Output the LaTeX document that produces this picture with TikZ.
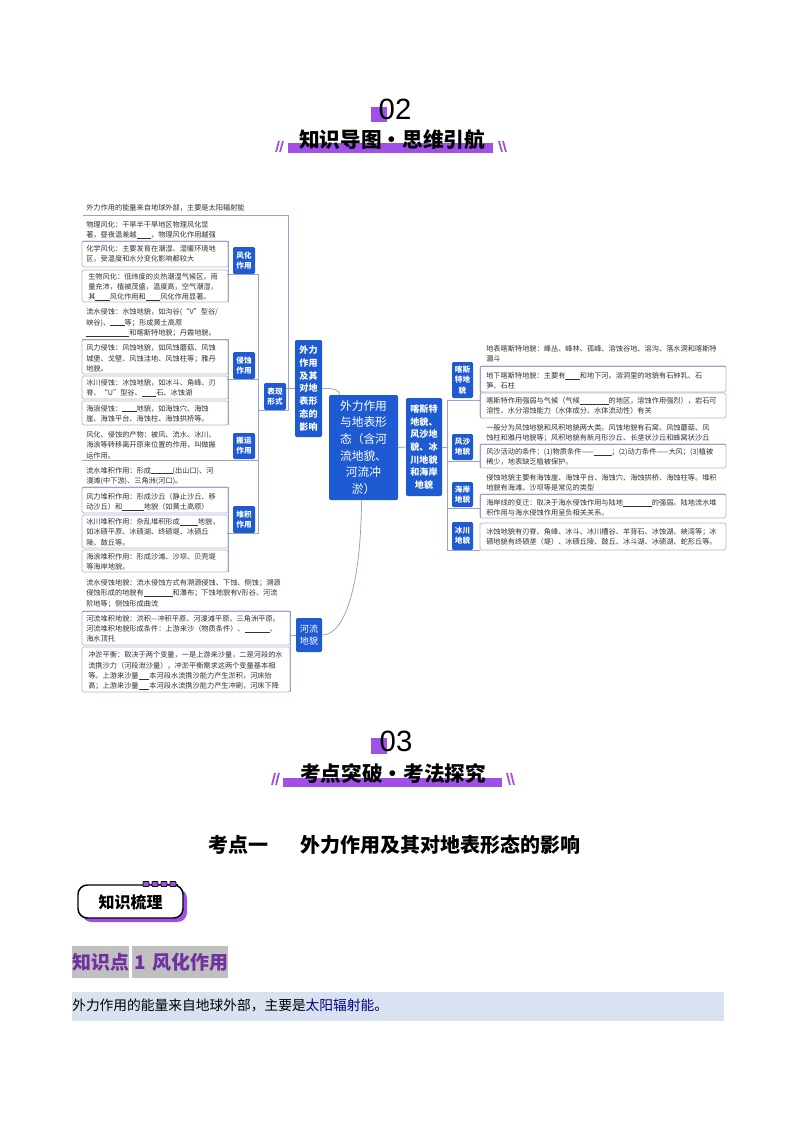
\documentclass[tikz,border=0pt]{standalone}
\usepackage{fontspec}
\setmainfont{Noto Sans CJK SC}
\newfontfamily\latinf{Liberation Sans}
\usetikzlibrary{calc}
\definecolor{pur}{RGB}{160,80,230}
\definecolor{mb}{RGB}{30,90,210}
\definecolor{lc}{RGB}{150,165,195}
\definecolor{lb}{RGB}{170,182,205}
\definecolor{tx}{RGB}{50,50,50}
\definecolor{lblp}{RGB}{112,48,160}
\definecolor{lgray}{RGB}{192,192,192}
\definecolor{hbar}{RGB}{218,226,242}
\definecolor{navy}{RGB}{0,0,128}
\newcommand\bl[1]{\rule[-0.5pt]{#1em}{0.35pt}}
\begin{document}
\begin{tikzpicture}[x=0.75pt,y=-0.75pt,
  leaf/.style={anchor=north west,inner sep=0,align=left,text=tx,font=\fontsize{5.4}{7.7}\selectfont},
  lbox/.style={draw=lb,line width=0.5pt,rounded corners=1.2pt},
  conn/.style={draw=lc,line width=0.6pt},
  bnode/.style={fill=mb,text=white,rounded corners=1pt,inner sep=0,align=center},
  sz/.style 2 args={minimum width=#1*0.75pt,minimum height=#2*0.75pt},
  small/.style={font=\bfseries\fontsize{5.7}{7.6}\selectfont},
  slash/.style={draw=pur,line width=1.3pt}]
\useasboundingbox (0,0) rectangle (794,1123);
\fill[white] (0,0) rectangle (794,1123);

% ===== header 02 =====
\fill[pur] (371,107) rectangle (387,122);
\node[font=\latinf\fontsize{22}{22}\selectfont,inner sep=0] (n02) at (395,109) {02};
\fill[pur] (288,143) rectangle (493,153);
\node[font=\bfseries\fontsize{15.5}{15.5}\selectfont,inner sep=0] (t02) at (392,140) {知识导图·思维引航};
\draw[slash] (276,152) -- (279,141); \draw[slash] (280,152) -- (283,141);
\draw[slash] (499,141) -- (502,152); \draw[slash] (503,141) -- (506,152);

% ===== mind map: blue nodes =====
\node[bnode,sz={69}{105},font=\fontsize{8.8}{12.5}\selectfont] (C) at (363.5,447.5) {外力作用\\与地表形\\态（含河\\流地貌、\\河流冲\\淤）};
\node[bnode,sz={27}{97},font=\bfseries\fontsize{6.8}{9.6}\selectfont] (F) at (308.5,388.5) {外力\\作用\\及其\\对地\\表形\\态的\\影响};
\node[bnode,sz={36}{98},font=\bfseries\fontsize{6.8}{9.5}\selectfont] (K) at (424,447) {喀斯特\\地貌、\\风沙地\\貌、冰\\川地貌\\和海岸\\地貌};
\node[bnode,sz={22}{27},small] (B) at (275,396.5) {表现\\形式};
\node[bnode,sz={22}{27},small] (G1) at (244,260.5) {风化\\作用};
\node[bnode,sz={22}{27},small] (G2) at (244,365.5) {侵蚀\\作用};
\node[bnode,sz={22}{26},small] (G3) at (244,446) {搬运\\作用};
\node[bnode,sz={22}{27},small] (G4) at (244,519.5) {堆积\\作用};
\node[bnode,sz={26}{34},font=\fontsize{6.8}{9.5}\selectfont] (R) at (309,635) {河流\\地貌};
\node[bnode,sz={21}{36},small] (KA) at (462.5,380) {喀斯\\特地\\貌};
\node[bnode,sz={21}{26},small] (FS) at (462.5,447) {风沙\\地貌};
\node[bnode,sz={21}{25},small] (HA) at (462.5,494.5) {海岸\\地貌};
\node[bnode,sz={21}{28},small] (BC) at (462.5,536) {冰川\\地貌};

% ===== leaf boxes =====
\draw[lbox] (82,241) rectangle (228,267);
\draw[lbox] (82,270) rectangle (228,302);
\draw[lbox] (82,340) rectangle (228,374);
\draw[lbox] (82,376) rectangle (228,399);
\draw[lbox] (82,401) rectangle (228,425);
\draw[lbox] (82,487) rectangle (228,513);
\draw[lbox] (82,515) rectangle (228,548);
\draw[lbox] (82,550) rectangle (228,572);
\draw[lbox] (82,611) rectangle (290,645);
\draw[lbox] (82,647) rectangle (290,692);
\draw[lbox] (480,366) rectangle (726,392);
\draw[lbox] (480,393) rectangle (726,418);
\draw[lbox] (480,444) rectangle (726,468);
\draw[lbox] (480,494) rectangle (726,518);
\draw[lbox] (480,523) rectangle (726,550);

% ===== leaf texts =====
\node[leaf] (L0) at (86,204.3) {外力作用的能量来自地球外部，主要是太阳辐射能};
\node[leaf] (L1) at (86,221.3) {物理风化：干旱半干旱地区物理风化显\\著，昼夜温差越\bl{2}，物理风化作用越强};
\node[leaf] (L2) at (86,245.3) {化学风化：主要发育在潮湿、湿暖环境地\\区，受温度和水分变化影响都较大};
\node[leaf] (L3) at (88,272.8) {生物风化：低纬度的炎热潮湿气候区，雨\\量充沛，植被茂盛，温度高，空气潮湿，\\其\bl{2}风化作用和\bl{2}风化作用显著。};
\node[leaf] (L4) at (86,308.5) {流水侵蚀：水蚀地貌，如沟谷(“V”型谷/\\峡谷)、\bl{2}等；形成黄土高原\\\bl{6}和喀斯特地貌；丹霞地貌。};
\node[leaf] (L5) at (86,344.5) {风力侵蚀：风蚀地貌，如风蚀蘑菇、风蚀\\城堡、戈壁、风蚀洼地、风蚀柱等；雅丹\\地貌。};
\node[leaf] (L6) at (86,378.8) {冰川侵蚀：冰蚀地貌，如冰斗、角峰、刃\\脊、“U”型谷、\bl{2}石、冰蚀湖};
\node[leaf] (L7) at (86,404.8) {海浪侵蚀：\bl{2}地貌，如海蚀穴、海蚀\\崖、海蚀平台、海蚀柱、海蚀拱桥等。};
\node[leaf] (L8) at (86,431.3) {风化、侵蚀的产物：被风、流水、冰川、\\海浪等转移离开原来位置的作用，叫做搬\\运作用。};
\node[leaf] (L9) at (86,466.8) {流水堆积作用：形成\bl{3}(出山口)、河\\漫滩(中下游)、三角洲(河口)。};
\node[leaf] (L10) at (86,492.8) {风力堆积作用：形成沙丘（静止沙丘、移\\动沙丘）和\bl{3}地貌（如黄土高原）};
\node[leaf] (L11) at (86,518.3) {冰川堆积作用：杂乱堆积形成\bl{2.5}地貌，\\如冰碛平原、冰碛湖、终碛堤、冰碛丘\\陵、鼓丘等。};
\node[leaf] (L12) at (86,553.3) {海浪堆积作用：形成沙滩、沙坝、贝壳堤\\等海岸地貌。};
\node[leaf] (L13) at (86,579.3) {流水侵蚀地貌：流水侵蚀方式有溯源侵蚀、下蚀、侧蚀；溯源\\侵蚀形成的地貌有\bl{4}和瀑布；下蚀地貌有V形谷、河流\\阶地等；侧蚀形成曲流};
\node[leaf] (L14) at (86,614.8) {河流堆积地貌：洪积—冲积平原、河漫滩平原、三角洲平原。\\河流堆积地貌形成条件：上游来沙（物质条件）、\bl{3.5}、\\海水顶托};
\node[leaf] (L15) at (88,651.5) {冲淤平衡：取决于两个变量，一是上游来沙量，二是河段的水\\流携沙力（河段泄沙量），冲淤平衡需求这两个变量基本相\\等。上游来沙量\bl{1.5}本河段水流携沙能力产生淤积，河床抬\\高；上游来沙量\bl{1.5}本河段水流携沙能力产生冲刷，河床下降};

\node[leaf] (R1) at (486,345.3) {地表喀斯特地貌：峰丛、峰林、孤峰、溶蚀谷地、溶沟、落水洞和喀斯特\\漏斗};
\node[leaf] (R2) at (486,372.3) {地下喀斯特地貌：主要有\bl{2}和地下河。溶洞里的地貌有石钟乳、石\\笋、石柱};
\node[leaf] (R3) at (486,397.3) {喀斯特作用强弱与气候（气候\bl{4}的地区，溶蚀作用强烈），岩石可\\溶性、水分溶蚀能力（水体成分、水体流动性）有关};
\node[leaf] (R4) at (486,424.3) {一般分为风蚀地貌和风积地貌两大类。风蚀地貌有石窝、风蚀蘑菇、风\\蚀柱和雅丹地貌等；风积地貌有新月形沙丘、长垄状沙丘和蜂窝状沙丘};
\node[leaf] (R5) at (486,448.3) {风沙活动的条件：(1)物质条件——\bl{2.5}；(2)动力条件——大风；(3)植被\\稀少，地表缺乏植被保护。};
\node[leaf] (R6) at (486,474.3) {侵蚀地貌主要有海蚀崖、海蚀平台、海蚀穴、海蚀拱桥、海蚀柱等。堆积\\地貌有海滩、沙坝等是常见的类型};
\node[leaf] (R7) at (486,499.3) {海岸线的变迁：取决于海水侵蚀作用与陆地\bl{4}的强弱。陆地流水堆\\积作用与海水侵蚀作用呈负相关关系。};
\node[leaf] (R8) at (486,528.3) {冰蚀地貌有刃脊、角峰、冰斗、冰川槽谷、羊背石、冰蚀湖、峡湾等；冰\\碛地貌有终碛垄（堤）、冰碛丘陵、鼓丘、冰斗湖、冰碛湖、蛇形丘等。};

% ===== connectors =====
\coordinate (jF1) at (288,215);
\coordinate (jF2) at (288,410);
\draw[conn] (83,215) -- (jF1) -- (jF2) -- (258,410);
\draw[conn] (F.west) -- (F.west -| B.east);
\draw[conn] (F.east) .. controls (333,388) and (340,390) .. ($(C.north west)+(11,0)$);
\draw[conn] (C.east) -- (K.west);
\draw[conn] (R.east) .. controls (345,635) and (361,585) .. ($(C.south)+(-2,0)$);
% left trunk
\coordinate (jB1) at (258,274);
\coordinate (jB2) at (258,533.5);
\draw[conn] (227,274) -- (jB1) -- (jB2) -- (227,533.5);
\draw[conn] (227,379.5) -- (258,379.5);
\draw[conn] (82,460) -- (258,460);
% leaf verticals
\draw[conn] (82,241) -- (228,241) -- (228,302);
\draw[conn] (82,339) -- (228,339) -- (228,425);
\draw[conn] (82,487) -- (228,487) -- (228,572);
\draw[conn] (82,611) -- (290,611) -- (290,692);
\draw[conn] (R.west) -- (R.west -| 290,0);
% right side
\coordinate (jK1) at (447,400);
\coordinate (jK2) at (447,550);
\draw[conn] (K.east) -- (K.east -| jK1);
\draw[conn] (jK1) -- (jK2);
\draw[conn] (jK1) -- (480,400);
\draw[conn] (447,461) -- (480,461);
\draw[conn] (447,508) -- (480,508);
\draw[conn] (jK2) -- (480,550);
\draw[conn] (726,366) -- (480,366) -- (480,418);
\draw[conn] (726,444) -- (480,444) -- (480,468);
\draw[conn] (726,494) -- (480,494) -- (480,518);

% ===== header 03 =====
\fill[pur] (371,738) rectangle (387,754);
\node[font=\latinf\fontsize{22}{22}\selectfont,inner sep=0] (n03) at (396,741) {03};
\fill[pur] (283,778) rectangle (502,787);
\node[font=\bfseries\fontsize{15.5}{15.5}\selectfont,inner sep=0] (t03) at (393,774) {考点突破·考法探究};
\draw[slash] (272,785) -- (275,773); \draw[slash] (276,785) -- (279,773);
\draw[slash] (507,773) -- (510,785); \draw[slash] (511,773) -- (514,785);

% ===== section title =====
\node[font=\bfseries\fontsize{15}{15}\selectfont,inner sep=0] (kd1) at (394,845) {考点一\hspace{1.6em}外力作用及其对地表形态的影响};

% ===== badge =====
\fill[pur,rounded corners=7pt] (82,889) rectangle (187,922);
\draw[black,line width=1.1pt,fill=white,rounded corners=7pt] (78,885) rectangle (183,918);
\draw[black,line width=0.8pt] (143,884.5) -- (178,884.5);
\foreach \xx in {143,152,161,170}{\draw[black,fill=pur,line width=0.6pt,rounded corners=0.5pt] (\xx,881.5) rectangle ++(6,5);}
\node[font=\bfseries\fontsize{12}{12}\selectfont,inner sep=0] (zs) at (130.5,902) {知识梳理};

% ===== label =====
\fill[lgray] (72,946) rectangle (129,978);
\fill[lgray] (132,946) rectangle (228,978);
\node[font=\bfseries\fontsize{14.2}{14.2}\selectfont,text=lblp,inner sep=0,anchor=west] (zsd) at (72,962) {知识点};
\node[font=\bfseries\fontsize{14.2}{14.2}\selectfont,text=lblp,inner sep=0,anchor=west] (fh) at (134,962) {1\hspace{0.35em}风化作用};

% ===== highlighted line =====
\fill[hbar] (72,992) rectangle (724,1021);
\node[font=\fontsize{10.3}{10.3}\selectfont,inner sep=0,anchor=west] (line1) at (72,1005) {外力作用的能量来自地球外部，主要是{\color{navy}太阳辐射能}。};
\end{tikzpicture}
\end{document}
